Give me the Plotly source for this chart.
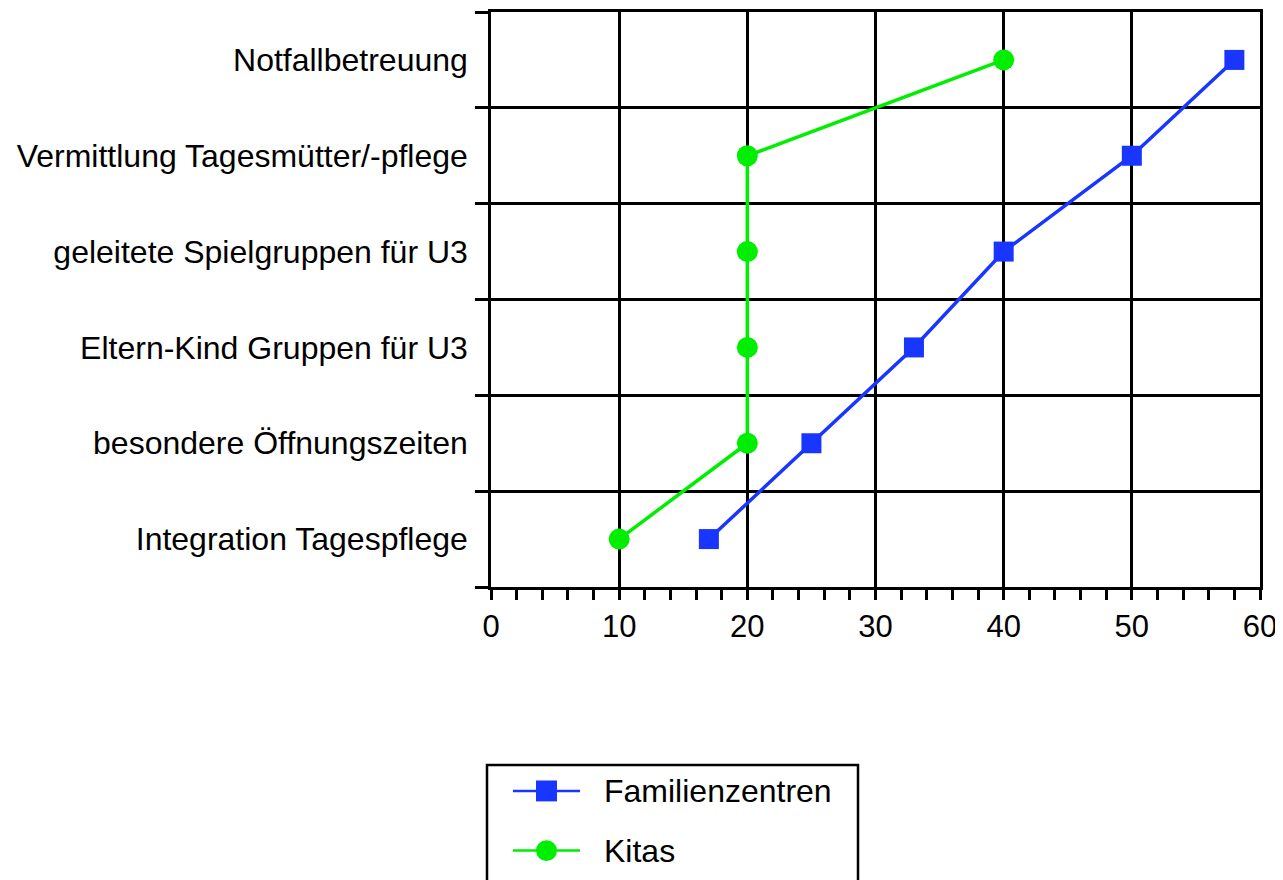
import plotly.graph_objects as go

categories = [
    "Integration Tagespflege",
    "besondere Öffnungszeiten",
    "Eltern-Kind Gruppen für U3",
    "geleitete Spielgruppen für U3",
    "Vermittlung Tagesmütter/-pflege",
    "Notfallbetreuung",
]
familienzentren = [17, 25, 33, 40, 50, 58]
kitas = [10, 20, 20, 20, 20, 40]
series_names = ["Familienzentren", "Kitas"]

BLUE = "#1836FF"
GREEN = "#00EE00"
FONT = "Liberation Sans, Arial, Helvetica, sans-serif"

OFF = 8  # page body margin
W, H = 1283 - OFF, 880 - OFF
L, R, T, B = 491 - OFF, 1260 - OFF, 9 - OFF, 587 - OFF
pw, ph = R - L, B - T

def px(x):
    return (x - OFF - L) / pw

def py(y):
    return (B - (y - OFF)) / ph

fig = go.Figure()
fig.add_trace(go.Scatter(
    x=familienzentren, y=categories, mode="lines+markers", name=series_names[0],
    line=dict(color=BLUE, width=3.5),
    marker=dict(symbol="square", size=20, color=BLUE, line=dict(width=0)),
    showlegend=False,
))
fig.add_trace(go.Scatter(
    x=kitas, y=categories, mode="lines+markers", name=series_names[1],
    line=dict(color=GREEN, width=3.5),
    marker=dict(symbol="circle", size=21, color=GREEN, line=dict(width=0)),
    showlegend=False,
))

# custom legend (box, sample lines, markers, labels)
shapes = []
annotations = []
shapes.append(dict(type="rect", xref="paper", yref="paper",
                   x0=px(487), x1=px(858), y0=py(766), y1=py(884),
                   line=dict(color="black", width=2.5), fillcolor="rgba(0,0,0,0)"))
legend_rows = [(792, BLUE, "square", series_names[0]), (852, GREEN, "circle", series_names[1])]
for yy, col, sym, name in legend_rows:
    shapes.append(dict(type="line", xref="paper", yref="paper",
                       x0=px(513), x1=px(580), y0=py(yy), y1=py(yy),
                       line=dict(color=col, width=2.5)))
    cx = 546.5
    r = 10.5
    shapes.append(dict(type="rect" if sym == "square" else "circle",
                       xref="paper", yref="paper",
                       x0=px(cx - r), x1=px(cx + r), y0=py(yy + r), y1=py(yy - r),
                       line=dict(width=0), fillcolor=col))
    annotations.append(dict(xref="paper", yref="paper", x=px(602), y=py(yy),
                            text=name, showarrow=False, xanchor="left", yanchor="middle",
                            font=dict(size=32, color="black", family=FONT)))

fig.update_layout(
    width=W, height=H,
    margin=dict(l=L, r=W - R, t=T, b=H - B, pad=0),
    paper_bgcolor="white", plot_bgcolor="white",
    font=dict(family=FONT, size=32, color="black"),
    shapes=shapes, annotations=annotations,
    showlegend=False,
)
fig.update_xaxes(
    range=[0, 60], dtick=10, tick0=0,
    showgrid=True, gridcolor="black", gridwidth=2.5,
    showline=True, linecolor="black", linewidth=2.5, mirror=True,
    ticks="outside", ticklen=10, tickwidth=2.5, tickcolor="black",
    minor=dict(dtick=2, ticks="outside", ticklen=10, tickwidth=2.5, tickcolor="black", showgrid=False),
    tickfont=dict(size=31), zeroline=False,
)
fig.update_yaxes(
    type="category", categoryorder="array", categoryarray=categories,
    range=[-0.5, 5.5], tickson="boundaries",
    showgrid=True, gridcolor="black", gridwidth=2.5,
    showline=True, linecolor="black", linewidth=2.5, mirror=True,
    ticks="outside", ticklen=13, tickwidth=2.5, tickcolor="black",
    tickfont=dict(size=32), zeroline=False, ticklabelstandoff=14,
)

fig.write_html("out.html")
